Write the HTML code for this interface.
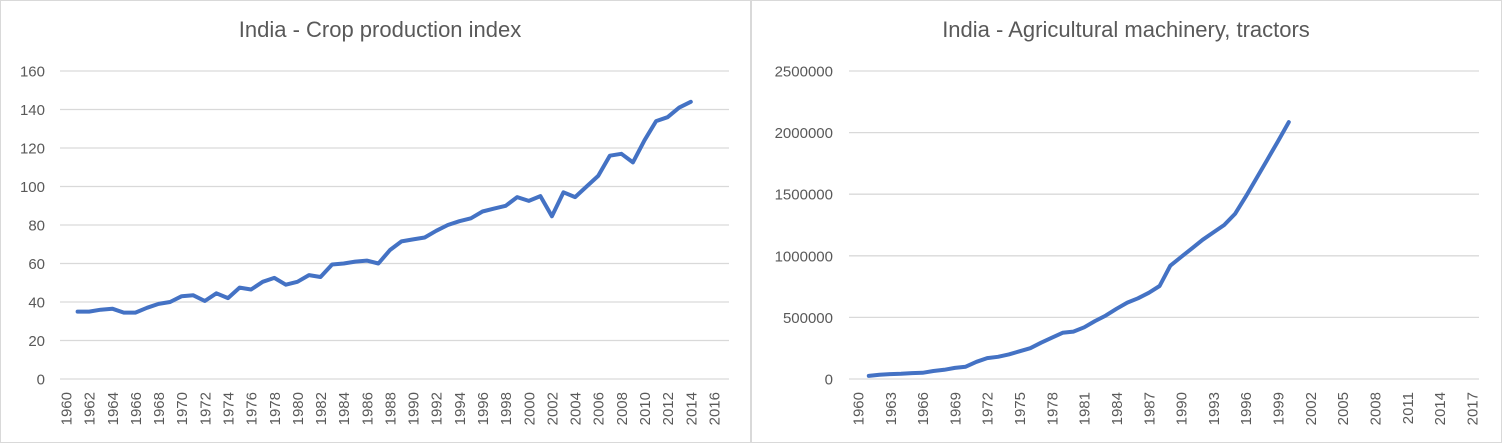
<!DOCTYPE html>
<html><head><meta charset="utf-8"><style>
body{margin:0;background:#fff}
svg text{font-family:"Liberation Sans",sans-serif;fill:#595959}
</style></head><body>
<svg id="s" width="1502" height="443" xmlns="http://www.w3.org/2000/svg">
<rect x="0.5" y="0.5" width="1501" height="442" fill="#fff" stroke="#d9d9d9"/>
<line x1="751" y1="0" x2="751" y2="443" stroke="#d9d9d9" stroke-width="2"/>
<text x="380" y="37" font-size="22" text-anchor="middle">India - Crop production index</text>
<text x="1126" y="37" font-size="22" text-anchor="middle">India - Agricultural machinery, tractors</text>
</svg>
<script>
const s=document.getElementById('s');const NS='http://www.w3.org/2000/svg';
function el(t,a,txt){const e=document.createElementNS(NS,t);for(const k in a)e.setAttribute(k,a[k]);if(txt!==undefined)e.textContent=txt;s.appendChild(e);return e;}
function chart(o){
 const y0=379,y1=71;
 for(let i=0;i<=o.n;i++){const y=y0-(y0-y1)*i/o.n;
  el('line',{x1:o.x0,x2:o.x1,y1:y,y2:y,stroke:'#d9d9d9','stroke-width':1.3});
  el('text',{x:o.lx,y:y+5.5,'font-size':15,'text-anchor':'end'},String(o.step*i));}
 const X=yr=>o.c0+o.w*(yr-1960);
 for(let yr=1960;yr<=o.yEnd;yr+=o.every){const x=X(yr)+5.5;
  el('text',{x:0,y:0,'font-size':15,'text-anchor':'end',transform:`translate(${x},392) rotate(-90)`},String(yr));}
 const max=o.step*o.n;
 const pts=o.d.map((v,i)=>X(1961+i).toFixed(1)+','+(y0-(y0-y1)*v/max).toFixed(1)).join(' ');
 el('polyline',{points:pts,fill:'none',stroke:'#4472c4','stroke-width':4,'stroke-linejoin':'round','stroke-linecap':'round'});
}
chart({x0:60,x1:729,c0:66,w:11.57,lx:45,n:8,step:20,yEnd:2016,every:2,d:[35,35,36,36.5,34.5,34.5,37,39,40,43,43.5,40.5,44.5,42,47.5,46.5,50.5,52.5,49,50.5,54,53,59.5,60,61,61.5,60,67,71.5,72.5,73.5,77,80,82,83.5,87,88.5,90,94.5,92.5,95,84.5,97,94.5,100,105.5,116,117,112.5,124,134,136,141,144]});
chart({x0:849,x1:1479,c0:858,w:10.77,lx:833,n:5,step:500000,yEnd:2017,every:3,d:[25000,35000,40000,42000,48000,50000,65000,75000,90000,100000,140000,170000,180000,200000,225000,250000,295000,335000,375000,385000,420000,470000,515000,570000,620000,655000,700000,755000,920000,990000,1060000,1130000,1190000,1250000,1340000,1480000,1630000,1780000,1930000,2085000]});
</script>
</body></html>
